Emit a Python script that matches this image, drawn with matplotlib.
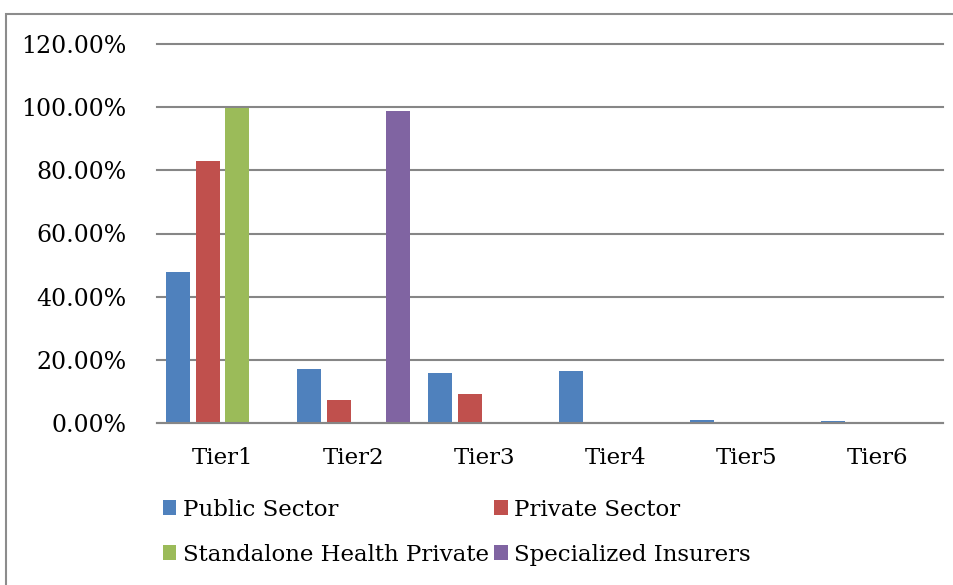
import numpy as np
import matplotlib.pyplot as plt
from matplotlib.patches import Rectangle

tiers = ["Tier1", "Tier2", "Tier3", "Tier4", "Tier5", "Tier6"]
public_sector = [47.9, 17.2, 15.9, 16.5, 0.9, 0.6]
private_sector = [83.0, 7.4, 9.3, 0, 0, 0]
standalone_health = [99.8, 0, 0, 0, 0, 0]
specialized = [0, 98.8, 0, 0, 0, 0]

series = [
    ("Public Sector", public_sector, "#4F81BD"),
    ("Private Sector", private_sector, "#C0504D"),
    ("Standalone Health Private", standalone_health, "#9BBB59"),
    ("Specialized Insurers", specialized, "#8064A2"),
]

plt.rcParams['font.family'] = ['DejaVu Serif']

fig = plt.figure(figsize=(9.54, 5.85), dpi=100)
ax = fig.add_axes([157/954, 1-423/585, (943-157)/954, (423-44)/585])

# outer chart border (right and bottom run off the image)
fig.patches.append(Rectangle((6/954, -0.1), 1.2, 1-14/585+0.1, transform=fig.transFigure,
                             fill=False, edgecolor="#8c8c8c", linewidth=1.5))

x = np.arange(len(tiers))
step = 0.225
width = 0.183
handles = {}
for i, (name, vals, col) in enumerate(series):
    handles[name] = ax.bar(x + (i - 1.5) * step, vals, width, color=col, label=name,
                           zorder=3, linewidth=0)

ax.set_xlim(-0.5, len(tiers) - 0.5)
ax.set_ylim(0, 120)
ax.set_yticks(np.arange(0, 121, 20))
ax.set_yticklabels([f"{v:.2f}%" for v in np.arange(0, 121, 20)])
ax.set_xticks(x)
ax.set_xticklabels(tiers)
ax.yaxis.grid(True, color="#868686", linewidth=1.5)
for gl in ax.get_ygridlines():
    gl.set_clip_on(False)
ax.set_axisbelow(True)
for s in ["left", "right", "top"]:
    ax.spines[s].set_visible(False)
ax.spines["bottom"].set_color("#868686")
ax.spines["bottom"].set_linewidth(1.5)
ax.spines["bottom"].set_zorder(4)
ax.tick_params(axis="y", length=0, pad=22, labelsize=17)
ax.tick_params(axis="x", length=0, pad=17, labelsize=16.5)

# legend laid out row by row like the original
order = ["Public Sector", "Standalone Health Private", "Private Sector", "Specialized Insurers"]
fig.legend(handles=[handles[n] for n in order], labels=order, loc="upper left",
           bbox_to_anchor=(142/954, 1-478/585),
           ncol=2, frameon=False, fontsize=16.5, handlelength=0.6, handleheight=0.6,
           handletextpad=0.3, columnspacing=0.2, labelspacing=1.0)

fig.savefig("out.png", dpi=100)
